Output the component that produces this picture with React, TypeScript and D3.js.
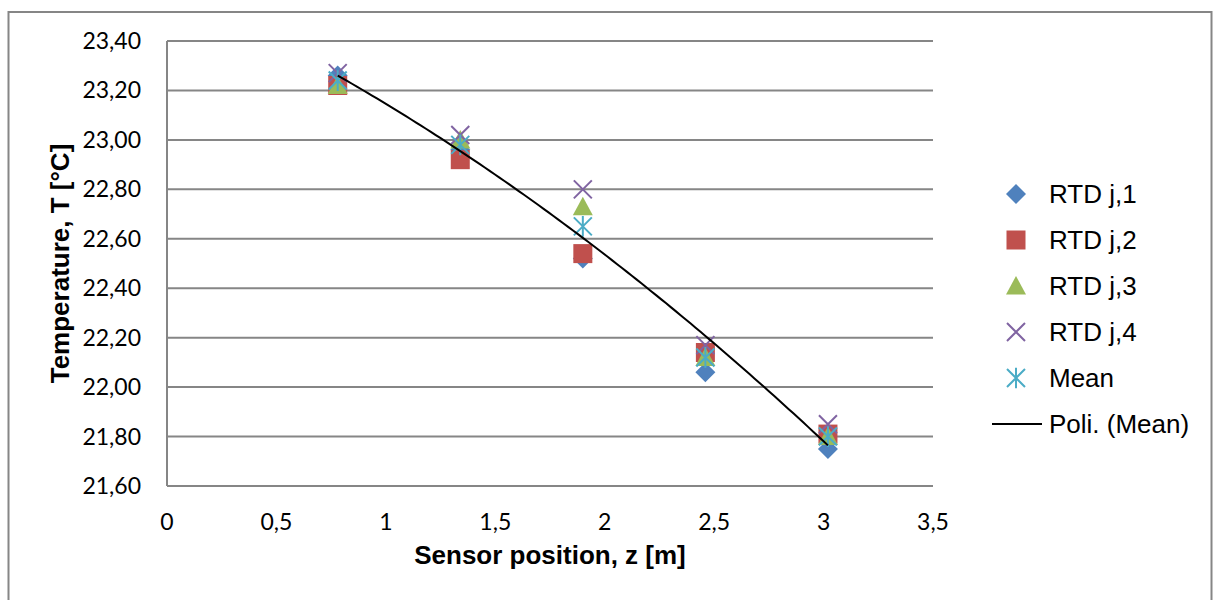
import React from "react";
import * as d3 from "d3";

const positions = [0.78, 1.34, 1.9, 2.46, 3.02];
const rtd1 = [23.26, 22.96, 22.52, 22.06, 21.75];
const rtd2 = [23.22, 22.92, 22.54, 22.14, 21.81];
const rtd3 = [23.22, 23.0, 22.73, 22.12, 21.8];
const rtd4 = [23.27, 23.02, 22.8, 22.17, 21.85];
const meanVals = [23.24, 22.98, 22.65, 22.12, 21.8];
const xTicks = [0, 0.5, 1, 1.5, 2, 2.5, 3, 3.5];
const yTicks = [21.6, 21.8, 22.0, 22.2, 22.4, 22.6, 22.8, 23.0, 23.2, 23.4];
const legendLabels = ["RTD j,1", "RTD j,2", "RTD j,3", "RTD j,4", "Mean", "Poli. (Mean)"];
const colors = ["#4F81BD", "#C0504D", "#9BBB59", "#8064A2", "#4BACC6"];

const W = 1214;
const H = 600;
const plot = { left: 167, right: 933, top: 41, bottom: 486 };

function quadFit(xs: number[], ys: number[]) {
  // least squares y = a + b x + c x^2
  let s0 = 0, s1 = 0, s2 = 0, s3 = 0, s4 = 0, t0 = 0, t1 = 0, t2 = 0;
  xs.forEach((x, i) => {
    const y = ys[i];
    s0 += 1; s1 += x; s2 += x * x; s3 += x ** 3; s4 += x ** 4;
    t0 += y; t1 += x * y; t2 += x * x * y;
  });
  const M = [
    [s0, s1, s2, t0],
    [s1, s2, s3, t1],
    [s2, s3, s4, t2],
  ];
  for (let i = 0; i < 3; i++) {
    for (let k = i + 1; k < 3; k++) {
      const f = M[k][i] / M[i][i];
      for (let j = i; j < 4; j++) M[k][j] -= f * M[i][j];
    }
  }
  const r = [0, 0, 0];
  for (let i = 2; i >= 0; i--) {
    let s = M[i][3];
    for (let j = i + 1; j < 3; j++) s -= M[i][j] * r[j];
    r[i] = s / M[i][i];
  }
  return (x: number) => r[0] + r[1] * x + r[2] * x * x;
}

function Marker({ kind, x, y }: { kind: number; x: number; y: number }) {
  const c = colors[kind];
  if (kind === 0) {
    const s = 10;
    return <path d={`M${x},${y - s}L${x + s},${y}L${x},${y + s}L${x - s},${y}Z`} fill={c} />;
  }
  if (kind === 1) {
    const s = 9.5;
    return <rect x={x - s} y={y - s} width={2 * s} height={2 * s} fill={c} />;
  }
  if (kind === 2) {
    const s = 10;
    return <path d={`M${x},${y - s}L${x + s},${y + s * 0.85}L${x - s},${y + s * 0.85}Z`} fill={c} />;
  }
  if (kind === 3) {
    const s = 9;
    return (
      <path d={`M${x - s},${y - s}L${x + s},${y + s}M${x + s},${y - s}L${x - s},${y + s}`} stroke={c} strokeWidth={2} fill="none" />
    );
  }
  const s = 9;
  return (
    <path
      d={`M${x - s},${y - s}L${x + s},${y + s}M${x + s},${y - s}L${x - s},${y + s}M${x},${y - s * 1.15}L${x},${y + s * 1.15}`}
      stroke={c}
      strokeWidth={2}
      fill="none"
    />
  );
}

export default function App() {
  const xScale = d3.scaleLinear().domain([0, 3.5]).range([plot.left, plot.right]);
  const yScale = d3.scaleLinear().domain([21.6, 23.4]).range([plot.bottom, plot.top]);
  const series = [rtd1, rtd2, rtd3, rtd4, meanVals];
  const fit = quadFit(positions, meanVals);
  const xs = d3.range(0, 101).map((i) => positions[0] + ((positions[4] - positions[0]) * i) / 100);
  const line = d3
    .line<number>()
    .x((d) => xScale(d))
    .y((d) => yScale(fit(d)));
  const tickFont = "Lato, 'Open Sans', sans-serif";
  const arial = "'Liberation Sans', Arial, sans-serif";
  const legendY = (i: number) => 194 + i * 46;

  return (
    <svg width={W} height={H} style={{ position: "absolute", left: 0, top: 0, background: "#fff" }}>
      <rect x={8.5} y={12} width={1203} height={640} fill="#fff" stroke="#868686" strokeWidth={2} />
      {yTicks.map((t) => (
        <line key={"g" + t} x1={plot.left} x2={plot.right} y1={yScale(t)} y2={yScale(t)} stroke="#868686" strokeWidth={2} />
      ))}
      <line x1={plot.left} x2={plot.left} y1={plot.top} y2={plot.bottom} stroke="#868686" strokeWidth={2} />
      {yTicks.map((t) => (
        <text
          key={"y" + t}
          x={141}
          y={yScale(t)}
          dy="0.35em"
          textAnchor="end"
          fontFamily={tickFont}
          fontSize={23}
          fill="#000"
        >
          {t.toFixed(2).replace(".", ",")}
        </text>
      ))}
      {xTicks.map((t) => (
        <text
          key={"x" + t}
          x={xScale(t)}
          y={522}
          dy="0.35em"
          textAnchor="middle"
          fontFamily={tickFont}
          fontSize={23}
          fill="#000"
        >
          {String(t).replace(".", ",")}
        </text>
      ))}
      <text x={550} y={564} textAnchor="middle" fontFamily={arial} fontWeight="bold" fontSize={26} fill="#000">
        Sensor position, z [m]
      </text>
      <text
        transform={`translate(69,${(plot.top + plot.bottom) / 2}) rotate(-90)`}
        textAnchor="middle"
        fontFamily={arial}
        fontWeight="bold"
        fontSize={26}
        fill="#000"
      >
        Temperature, T [°C]
      </text>
      {series.map((vals, si) =>
        vals.map((v, i) => <Marker key={si + "-" + i} kind={si} x={xScale(positions[i])} y={yScale(v)} />)
      )}
      <path d={line(xs) || ""} fill="none" stroke="#000" strokeWidth={2} />
      {legendLabels.map((lab, i) => (
        <g key={lab}>
          {i < 5 ? (
            <Marker kind={i} x={1016} y={legendY(i)} />
          ) : (
            <line x1={992} x2={1042} y1={legendY(i)} y2={legendY(i)} stroke="#000" strokeWidth={2} />
          )}
          <text x={1049} y={legendY(i)} dy="0.36em" fontFamily={arial} fontSize={26} fill="#000">
            {lab}
          </text>
        </g>
      ))}
    </svg>
  );
}
